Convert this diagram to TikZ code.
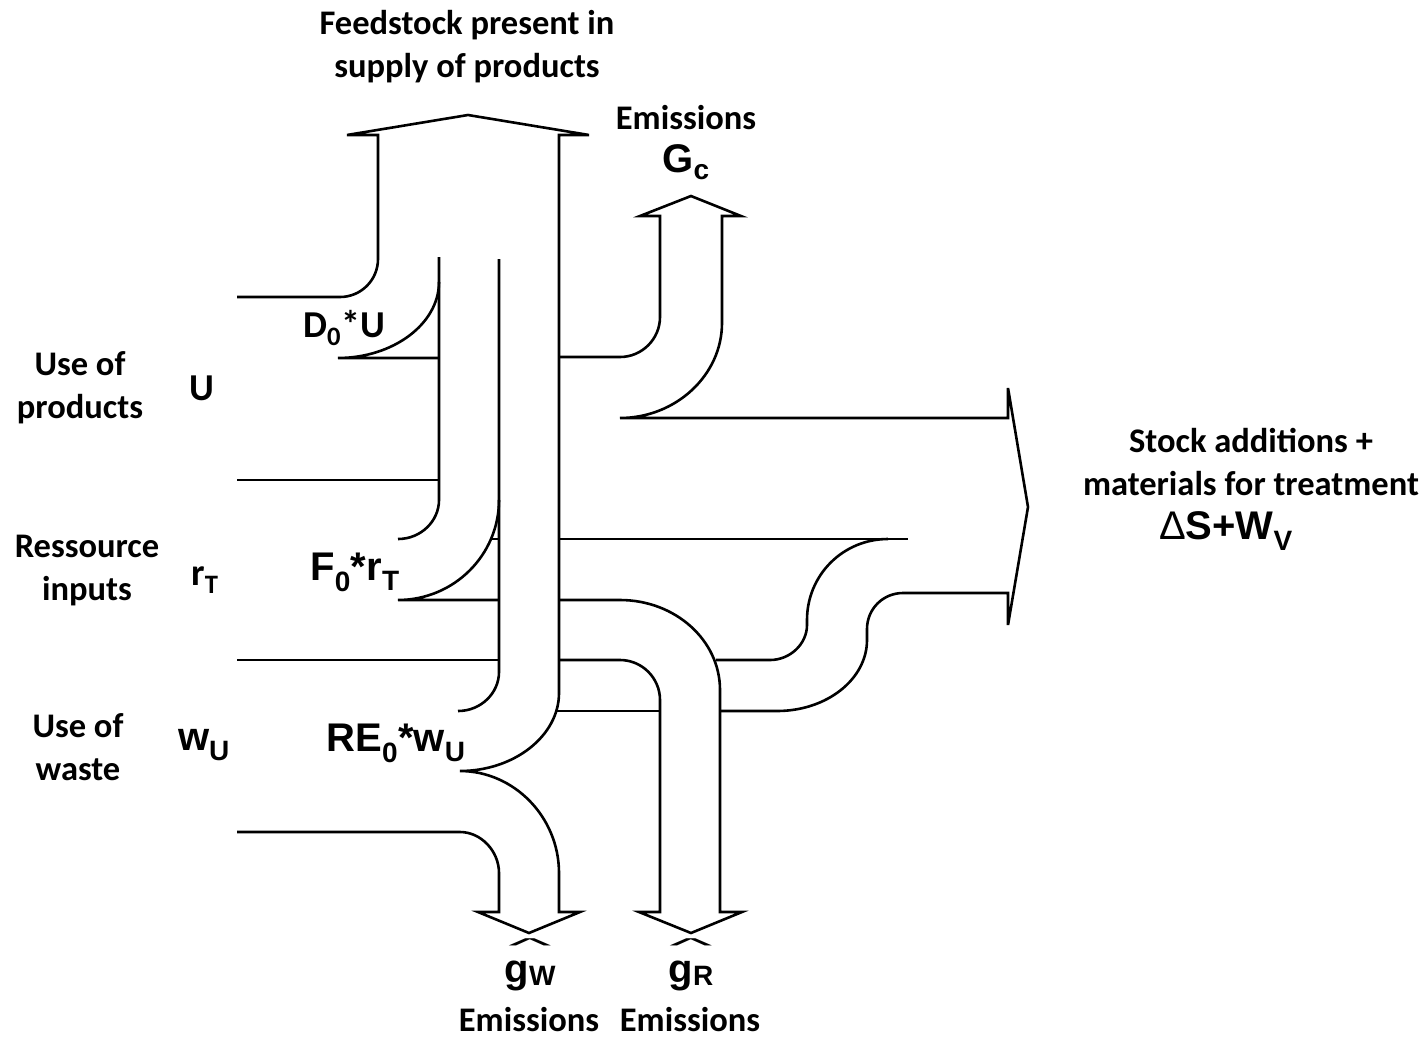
\documentclass[tikz,border=0pt]{standalone}
\usepackage{fontspec}
\setmainfont{Carlito}
\newfontfamily\arialfam{Liberation Sans}
\usetikzlibrary{positioning}

\newcommand{\flowwords}{\fontsize{34.5}{43}\selectfont\bfseries}
\newcommand{\flowbig}{\fontsize{38}{46}\selectfont\bfseries}
\newcommand{\flowsyms}{\arialfam\fontsize{40}{48}\selectfont\bfseries}
\newcommand{\emhat}{\scalebox{2.3}[0.5]{\mdseries\textasciicircum}}
\newcommand{\emsub}[1]{\raisebox{-3pt}{\fontsize{28}{28}\selectfont #1}}

\tikzset{
  flowline/.style={line width=2.6pt},
  wordlbl/.style={font=\flowwords, align=center, inner sep=0pt},
  onelbl/.style={font=\flowwords, inner sep=0pt},
  biglbl/.style={font=\flowbig, inner sep=0pt},
  symlbl/.style={font=\flowsyms, inner sep=0pt}
}

\begin{document}
\begin{tikzpicture}[x=1pt,y=-1pt]
    \useasboundingbox (0,0) rectangle (1419,1037);

    % feedstock arrow, top of U and the w_U emission branch
    \draw[flowline]
      (237,297) -- (340,297) .. controls (361,297) and (378,280) .. (378,259)
      -- (378,135) -- (347,135) -- (468,115) -- (589,135) -- (559,135)
      -- (559,693) .. controls (559,736) and (514,771) .. (460,771)
      .. controls (514,771) and (559,817) .. (559,873)
      -- (559,912) -- (580,912) -- (529,933) -- (478,912) -- (499,912)
      -- (499,873) .. controls (499,851) and (481,832) .. (460,832)
      -- (237,832);

    % D_0*U
    \draw[flowline] (439,257) -- (439,500) .. controls (439,521) and (421,539) .. (398,539);
    \draw[flowline] (439,282) .. controls (439,324) and (393,358) .. (338,358) -- (439,358);
    \draw[flowline] (237,480) -- (439,480);

    % F_0*r_T
    \draw[flowline] (499,259) -- (499,672) .. controls (499,693) and (481,711) .. (458,711);
    \draw[flowline] (499,500) .. controls (499,555) and (454,600) .. (398,600) -- (499,600);
    \draw[flowline] (491,539) -- (499,539);
    \draw[flowline] (237,660) -- (499,660);

    % G_c branch and stock arrow
    \draw[flowline]
      (559,357) -- (620,357) .. controls (642,357) and (660,339) .. (660,317)
      -- (660,216) -- (640,216) -- (691,196) -- (741,216) -- (722,216)
      -- (722,323) .. controls (722,375) and (676,418) .. (620,418)
      -- (1008,418) -- (1008,388) -- (1028,507) -- (1008,625) -- (1008,593)
      -- (903,593) .. controls (883,593) and (867,609) .. (867,629)
      -- (867,640) .. controls (867,679) and (827,711) .. (777,711)
      -- (720,711);
    \draw[flowline] (559,539) -- (908,539);
    \draw[flowline]
      (888,539) .. controls (843,539) and (807,575) .. (807,620)
      -- (807,625) .. controls (807,644) and (790,660) .. (770,660) -- (716,660);

    % g_R branch
    \draw[flowline]
      (559,660) -- (620,660) .. controls (642,660) and (660,678) .. (660,700)
      -- (660,912) -- (639,912) -- (691,933) -- (742,912) -- (720,912)
      -- (720,690) .. controls (720,640) and (675,600) .. (620,600) -- (559,600);
    \draw[flowline] (556,711) -- (660,711);

    % labels
    \node[wordlbl] (feedstock) at (467,47) {Feedstock present in\\supply of products};
    \node[onelbl] (emisGc) at (686,118) {Emissions};
    \node[symlbl, below=14pt of emisGc] (Gc) {G\textsubscript{c}};
    \node[wordlbl] (useprod) at (80,388) {Use of\\products};
    \node[biglbl] (Usym) at (202,388) {U};
    \node[wordlbl] (resin) at (87,571) {Ressource\\inputs};
    \node[biglbl] (rTsym) at (205,580) {r\textsubscript{T}};
    \node[wordlbl] (usewaste) at (78,747) {Use of\\waste};
    \node[symlbl] (wUsym) at (204,745) {w\textsubscript{U}};
    \node[biglbl] (D0U) at (344,328) {D\textsubscript{0}*U};
    \node[symlbl] (F0rT) at (355,572) {F\textsubscript{0}*r\textsubscript{T}};
    \node[symlbl] (RE0wU) at (396,743) {RE\textsubscript{0}*w\textsubscript{U}};
    \node[wordlbl] (stock) at (1251,462) {Stock additions +\\materials for treatment};
    \node[symlbl] (dSWv) at (1226,531) {{\mdseries Δ}S+W\textsubscript{V}};
    \node[symlbl, anchor=north] (gW) at (530,939) {\shortstack{\emhat\\[5pt]g\emsub{W}}};
    \node[symlbl, anchor=north] (gR) at (691,939) {\shortstack{\emhat\\[5pt]g\emsub{R}}};
    \node[onelbl] (emisW) at (529,1020) {Emissions};
    \node[onelbl] (emisR) at (690,1020) {Emissions};
\end{tikzpicture}
\end{document}
